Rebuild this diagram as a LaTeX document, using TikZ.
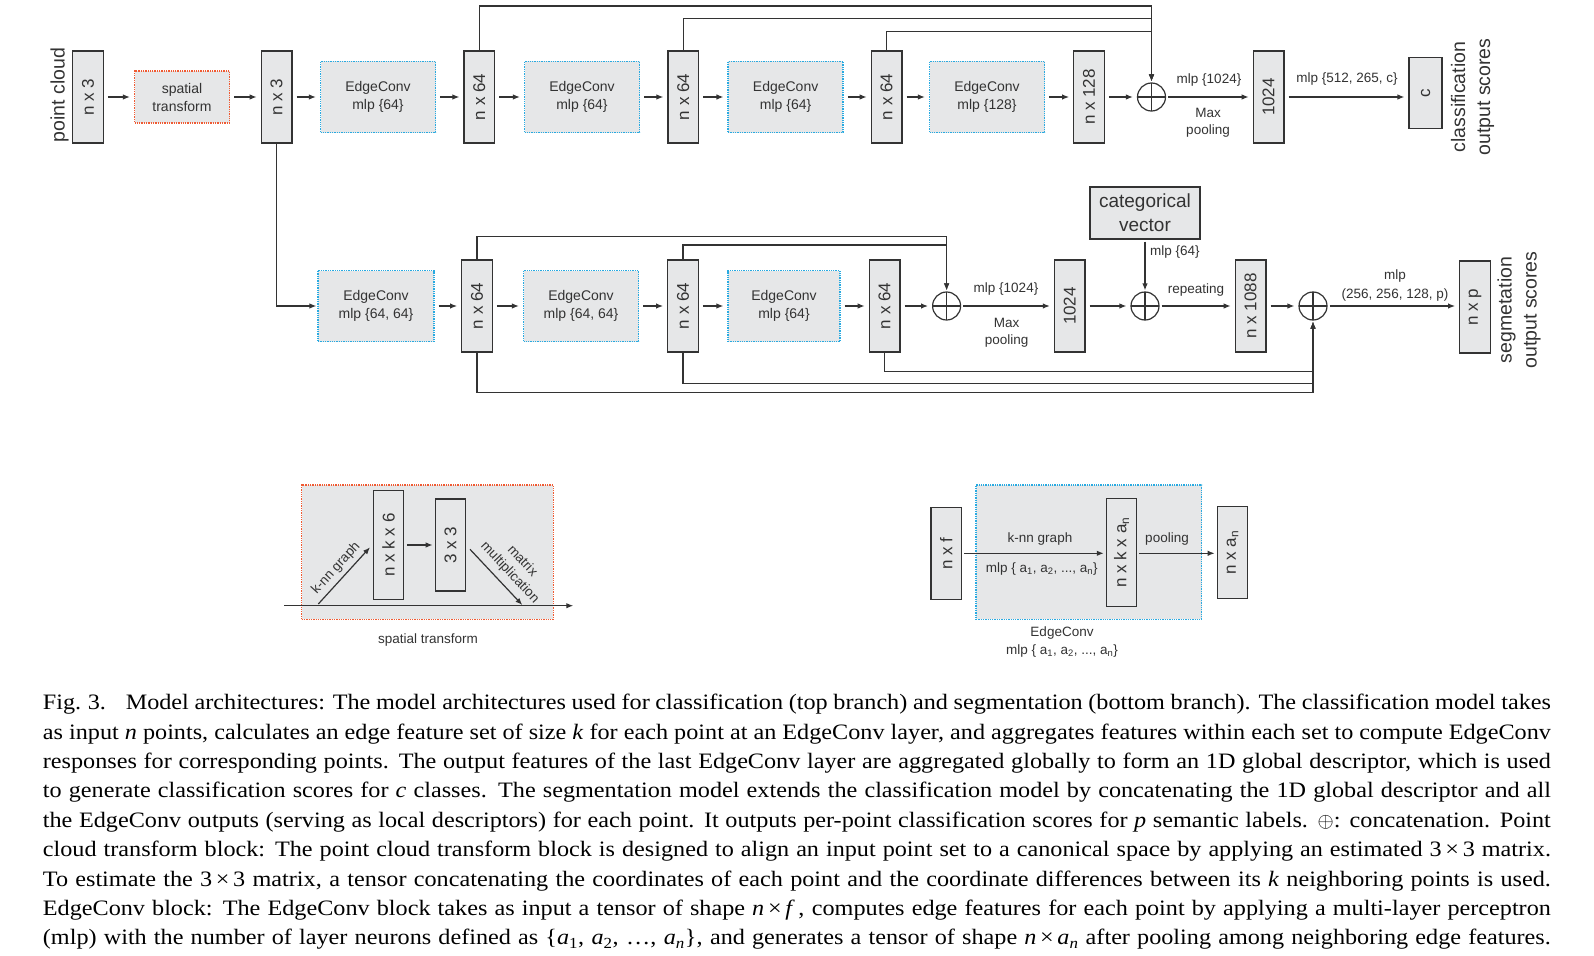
\documentclass[tikz,border=0pt]{standalone}
\usepackage{fontspec}
\setmainfont{Liberation Serif}[FakeStretch=1.1]
\newfontfamily\dsans{Liberation Sans}
\usetikzlibrary{arrows.meta}
\definecolor{boxgray}{RGB}{230,231,232}
\definecolor{dk}{RGB}{51,51,51}
\definecolor{redd}{RGB}{240,90,50}
\definecolor{cyanb}{RGB}{40,170,225}
\begin{document}
\begin{tikzpicture}[x=1pt,y=-1pt,
  every node/.style={text=dk},
  tensor/.style={draw=dk, fill=boxgray, line width=1.4pt, minimum width=30.5pt, minimum height=92pt, inner sep=0pt, font=\dsans\fontsize{17}{20}\selectfont},
  ecbox/.style={draw=cyanb, fill=boxgray, densely dotted, line width=1.3pt, minimum width=115pt, minimum height=71pt, align=center, inner sep=0pt, font=\dsans\fontsize{14}{18}\selectfont},
  stbox/.style={ecbox, draw=redd, minimum width=95pt, minimum height=52pt},
  arr/.style={draw=dk, line width=1.2pt, -{Latex[length=7pt,width=5.5pt]}, shorten <=4pt, shorten >=4pt},
  skip/.style={arr, shorten <=0pt, shorten >=1pt},
  opl/.style={circle, draw=dk, line width=1.2pt, minimum size=28pt, inner sep=0pt,
    path picture={\draw[dk, line width=1.2pt] (path picture bounding box.north) -- (path picture bounding box.south) (path picture bounding box.west) -- (path picture bounding box.east);}},
  lbl/.style={font=\dsans\fontsize{13.5}{17}\selectfont, align=center, inner sep=0pt},
  side/.style={font=\dsans\fontsize{19.5}{25}\selectfont, align=center, inner sep=0pt, rotate=90},
  catbox/.style={draw=dk, fill=boxgray, line width=1.4pt, minimum width=110pt, minimum height=52pt, align=center, inner sep=0pt, font=\dsans\fontsize{19}{24}\selectfont}
]
\fill[white] (0,0) rectangle (1594,955);
\useasboundingbox (0,0) rectangle (1594,955);

% ---------------- top branch ----------------
\node[side] (pc) at (59.6,95) {point cloud};
\node[tensor] (t1) at (88,97) {\rotatebox{90}{n x 3}};
\node[stbox] (st) at (182,97) {spatial\\transform};
\node[tensor] (t2) at (276.6,97) {\rotatebox{90}{n x 3}};
\node[ecbox] (ec1) at (378,97) {EdgeConv\\mlp \{64\}};
\node[tensor] (t3) at (479.3,97) {\rotatebox{90}{n x 64}};
\node[ecbox] (ec2) at (582,97) {EdgeConv\\mlp \{64\}};
\node[tensor] (t4) at (683.3,97) {\rotatebox{90}{n x 64}};
\node[ecbox] (ec3) at (785.6,97) {EdgeConv\\mlp \{64\}};
\node[tensor] (t5) at (886.6,97) {\rotatebox{90}{n x 64}};
\node[ecbox] (ec4) at (987,97) {EdgeConv\\mlp \{128\}};
\node[tensor] (t6) at (1089,97) {\rotatebox{90}{n x 128}};
\node[opl] (op1) at (1151.5,97) {};
\node[tensor] (t7) at (1268.6,97) {\rotatebox{90}{1024}};
\node[tensor, minimum width=33pt, minimum height=71pt] (cb) at (1425.6,93) {\rotatebox{90}{c}};
\node[side] (cls) at (1472.5,97) {classification\\output scores};

\draw[arr] (t1) -- (st);
\draw[arr] (st) -- (t2);
\draw[arr] (t2) -- (ec1);
\draw[arr] (ec1) -- (t3);
\draw[arr] (t3) -- (ec2);
\draw[arr] (ec2) -- (t4);
\draw[arr] (t4) -- (ec3);
\draw[arr] (ec3) -- (t5);
\draw[arr] (t5) -- (ec4);
\draw[arr] (ec4) -- (t6);
\draw[arr] (t6) -- (op1);
\draw[arr, shorten <=2pt] (op1) -- (t7);
\draw[arr] (t7.east) -- (t7.east -| cb.west);
\draw[skip] (t3.north) -- (t3.north |- 0,6) -| (op1.north);
\draw[skip] (t4.north) -- (t4.north |- 0,18.3) -| (op1.north);
\draw[skip] (t5.north) -- (t5.north |- 0,31.7) -| (op1.north);

\node[lbl] (l1) at (1209,80) {mlp \{1024\}};
\node[lbl] (l2) at (1208,123) {Max\\pooling};
\node[lbl] (l3) at (1347,79) {mlp \{512, 265, c\}};

% ---------------- bottom branch ----------------
\node[ecbox, minimum width=116pt] (eb1) at (376,306) {EdgeConv\\mlp \{64, 64\}};
\node[tensor] (b1) at (477,306) {\rotatebox{90}{n x 64}};
\node[ecbox] (eb2) at (581,306) {EdgeConv\\mlp \{64, 64\}};
\node[tensor] (b2) at (683,306) {\rotatebox{90}{n x 64}};
\node[ecbox, minimum width=112pt] (eb3) at (784,306) {EdgeConv\\mlp \{64\}};
\node[tensor] (b3) at (884.6,306) {\rotatebox{90}{n x 64}};
\node[opl] (ob1) at (946.6,306) {};
\node[tensor] (b4) at (1069.7,306) {\rotatebox{90}{1024}};
\node[opl] (ob2) at (1145,306) {};
\node[catbox] (cat) at (1145,213) {categorical\\vector};
\node[tensor] (b5) at (1250.6,306) {\rotatebox{90}{n x 1088}};
\node[opl] (ob3) at (1313,306) {};
\node[tensor] (b6) at (1475,307) {\rotatebox{90}{n x p}};
\node[side] (seg) at (1519,310) {segmetation\\output scores};

\draw[skip] (t2.south) |- (eb1.west);
\draw[arr] (eb1) -- (b1);
\draw[arr] (b1) -- (eb2);
\draw[arr] (eb2) -- (b2);
\draw[arr] (b2) -- (eb3);
\draw[arr] (eb3) -- (b3);
\draw[arr] (b3) -- (ob1);
\draw[arr, shorten <=2pt] (ob1) -- (b4);
\draw[arr] (b4) -- (ob2);
\draw[arr, shorten <=2pt, shorten >=1pt] (cat) -- (ob2);
\draw[arr, shorten <=2pt] (ob2) -- (b5);
\draw[arr] (b5) -- (ob3);
\draw[arr, shorten <=2pt] (ob3) -- (ob3 -| b6.west);
\draw[skip] (b1.north) -- (b1.north |- 0,236.7) -| (ob1.north);
\draw[skip] (b2.north) -- (b2.north |- 0,245) -| (ob1.north);
\draw[skip] (b1.south) -- (b1.south |- 0,392.7) -| (ob3.south);
\draw[skip] (b2.south) -- (b2.south |- 0,383.3) -| (ob3.south);
\draw[skip] (b3.south) -- (b3.south |- 0,371.7) -| (ob3.south);

\node[lbl] (l4) at (1006,289) {mlp \{1024\}};
\node[lbl] (l5) at (1006.6,333) {Max\\pooling};
\node[lbl, anchor=west] (l6) at (1150,252) {mlp \{64\}};
\node[lbl] (l7) at (1196,290) {repeating};
\node[lbl, font=\dsans\fontsize{13.5}{19}\selectfont] (l8) at (1395,285.5) {mlp\\(256, 256, 128, p)};

% ---------------- spatial transform inset ----------------
\node[draw=redd, fill=boxgray, densely dotted, line width=1.3pt, minimum width=251.6pt, minimum height=134.3pt, inner sep=0pt] (stb) at (427.5,552.2) {};
\node[tensor, line width=1.2pt, minimum height=108.6pt] (nk6) at (388.5,545) {\rotatebox{90}{n x k x 6}};
\node[tensor, line width=1.2pt] (m33) at (450.5,545) {\rotatebox{90}{3 x 3}};
\draw[arr, shorten <=3pt, shorten >=2pt] (nk6) -- (m33);
\coordinate (hs) at (284,605.7);
\coordinate (he) at (573.3,605.7);
\draw[arr, shorten <=0pt, shorten >=0pt] (hs) -- (he);
\coordinate (k1) at (318.3,604);
\coordinate (k2) at (370,547.3);
\draw[arr, shorten <=0pt, shorten >=0pt] (k1) -- node[lbl, sloped, above=4pt] {k-nn graph} (k2);
\coordinate (m1) at (470,549.3);
\coordinate (m2) at (522.3,605);
\draw[arr, shorten <=0pt, shorten >=0pt] (m1) -- node[lbl, sloped, above=6pt, pos=0.58] {matrix\\multiplication} (m2);
\node[lbl] (stl) at (428,640) {spatial transform};

% ---------------- EdgeConv inset ----------------
\node[draw=cyanb, fill=boxgray, densely dotted, line width=1.3pt, minimum width=225.7pt, minimum height=134.3pt, inner sep=0pt] (ecb) at (1088.85,552.2) {};
\node[tensor, line width=1.2pt] (nxf) at (946.3,553.5) {\rotatebox{90}{n x f}};
\node[tensor, line width=1.2pt, minimum height=108.4pt] (nka) at (1121.6,552.5) {\rotatebox{90}{n x k x a\textsubscript{n}}};
\node[tensor, line width=1.2pt] (nxa) at (1232.5,552.5) {\rotatebox{90}{n x a\textsubscript{n}}};
\draw[arr, shorten <=2pt, shorten >=2pt] (nxf.east |- 0,553.3) -- (nka.west |- 0,553.3);
\draw[arr, shorten <=2pt, shorten >=2pt] (nka.east |- 0,553.3) -- (nxa.west |- 0,553.3);
\node[lbl] (e1) at (1040,539) {k-nn graph};
\node[lbl] (e2) at (1041.7,569) {mlp \{ a\textsubscript{1}, a\textsubscript{2}, ..., a\textsubscript{n}\}};
\node[lbl] (e3) at (1167,539) {pooling};
\node[lbl] (e4) at (1062,633) {EdgeConv};
\node[lbl] (e5) at (1062,651) {mlp \{ a\textsubscript{1}, a\textsubscript{2}, ..., a\textsubscript{n}\}};

% ---------------- caption ----------------
\node[anchor=north west, text width=1508pt, align=justify, inner sep=0pt, text=black,
  font=\fontsize{22}{29.4}\selectfont] (cap) at (42.7,694) {\parfillskip=0pt
Fig.\hspace{0.3em}3.\hspace{0.9em}Model architectures: The model architectures used for classification (top branch) and segmentation (bottom branch). The classification model takes\linebreak
as input \textit{n} points, calculates an edge feature set of size \textit{k} for each point at an EdgeConv layer, and aggregates features within each set to compute EdgeConv\linebreak
responses for corresponding points. The output features of the last EdgeConv layer are aggregated globally to form an 1D global descriptor, which is used\linebreak
to generate classification scores for \textit{c} classes. The segmentation model extends the classification model by concatenating the 1D global descriptor and all\linebreak
the EdgeConv outputs (serving as local descriptors) for each point. It outputs per-point classification scores for \textit{p} semantic labels. $\oplus$: concatenation. Point\linebreak
cloud transform block: The point cloud transform block is designed to align an input point set to a canonical space by applying an estimated 3\,×\,3 matrix.\linebreak
To estimate the 3\,×\,3 matrix, a tensor concatenating the coordinates of each point and the coordinate differences between its \textit{k} neighboring points is used.\linebreak
EdgeConv block: The EdgeConv block takes as input a tensor of shape \textit{n}\,×\,\textit{f}\,, computes edge features for each point by applying a multi-layer perceptron\linebreak
(mlp) with the number of layer neurons defined as \{\textit{a}\textsubscript{1}, \textit{a}\textsubscript{2}, \ldots, \textit{a}\textsubscript{\textit{n}}\}, and generates a tensor of shape \textit{n}\,×\,\textit{a}\textsubscript{\textit{n}} after pooling among neighboring edge features.\par};
\end{tikzpicture}
\end{document}
